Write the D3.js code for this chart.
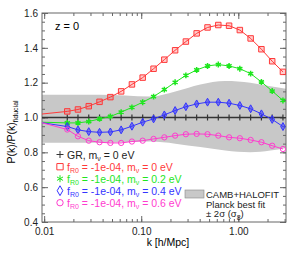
<!DOCTYPE html>
<html>
<head>
<meta charset="utf-8">
<script src="https://cdn.jsdelivr.net/npm/d3@7"></script>
<style>
  html, body { margin: 0; padding: 0; background: #fff; }
  svg { display: block; font-family: "Liberation Sans", Arial, Helvetica, sans-serif; }
  .axis path { display: none; }
  .axis line { stroke: #666; }
  .axis text { font-size: 10px; fill: #222; }
</style>
</head>
<body>
<div id="chart"></div>
<script>
// k values (h/Mpc); the first one sits on the left edge of the plot
const kVals = [0.0095, 0.0173, 0.0223, 0.0288, 0.0372, 0.0481, 0.0621, 0.0802, 0.1035, 0.134, 0.173,
  0.2234, 0.2884, 0.3724, 0.4819, 0.6223, 0.8035, 1.037, 1.34, 1.73, 2.234, 2.884];

// P(k)/P(k)_fiducial for each model
const grVals   = [1.0, 1.0, 1.0, 1.0, 1.0, 1.0, 1.0, 1.0, 1.0, 1.0, 1.0, 1.0, 1.0, 1.0, 1.0, 1.0, 1.0, 1.0, 1.0, 1.0, 1.0, 1.0];
const nu00Vals = [1.02, 1.035, 1.046, 1.065, 1.09, 1.117, 1.15, 1.19, 1.229, 1.28, 1.332, 1.386, 1.436, 1.483, 1.517, 1.531, 1.527, 1.502, 1.454, 1.392, 1.323, 1.262];
const nu02Vals = [0.973, 0.969, 0.969, 0.977, 0.992, 1.006, 1.031, 1.058, 1.088, 1.12, 1.16, 1.202, 1.242, 1.273, 1.296, 1.304, 1.296, 1.28, 1.252, 1.204, 1.152, 1.098];
const nu04Vals = [0.97, 0.948, 0.929, 0.919, 0.915, 0.917, 0.929, 0.95, 0.973, 0.992, 1.015, 1.04, 1.062, 1.078, 1.088, 1.088, 1.082, 1.069, 1.05, 1.021, 0.989, 0.948];
const nu06Vals = [0.97, 0.931, 0.892, 0.867, 0.858, 0.854, 0.854, 0.862, 0.867, 0.877, 0.886, 0.896, 0.904, 0.906, 0.904, 0.896, 0.886, 0.881, 0.871, 0.858, 0.838, 0.819];

// CAMB+HALOFIT +/- 2 sigma(sigma8) band
const bandK  = [0.0095, 0.0378, 0.124, 0.2245, 0.406, 0.734, 1.33, 2.14, 3.1];
const bandHi = [1.13, 1.13, 1.12, 1.15, 1.19, 1.21, 1.20, 1.18, 1.165];
const bandLo = [0.855, 0.855, 0.862, 0.85, 0.83, 0.81, 0.80, 0.81, 0.825];

// tick labels
const xTickVals = [0.01, 0.1, 1];
const xTickLabels = ["0.01", "0.10", "1.00"];
const yTickVals = [0.4, 0.6, 0.8, 1.0, 1.2, 1.4, 1.6];
const yTickLabels = ["0.4", "0.6", "0.8", "1.0", "1.2", "1.4", "1.6"];

const seriesNames = [
  { sub: "R0", text: " = -1e-04, m", nu: "0 eV" },
  { sub: "R0", text: " = -1e-04, m", nu: "0.2 eV" },
  { sub: "R0", text: " = -1e-04, m", nu: "0.4 eV" },
  { sub: "R0", text: " = -1e-04, m", nu: "0.6 eV" }
];

const width = 305, height = 254;
const margin = { left: 42, right: 19, top: 13, bottom: 32 };
const plotW = width - margin.left - margin.right;
const plotH = height - margin.top - margin.bottom;

const svg = d3.select("#chart").append("svg")
  .attr("width", width)
  .attr("height", height);

const x = d3.scaleLog().domain([0.0095, 3.1]).range([0, plotW]);
const y = d3.scaleLinear().domain([0.4, 1.6]).range([plotH, 0]);

const chart = svg.append("g")
  .attr("transform", `translate(${margin.left},${margin.top})`);

chart.append("clipPath").attr("id", "clip")
  .append("rect").attr("width", plotW).attr("height", plotH);

// grey band
const bandData = bandK.map((k, i) => ({ k: k, hi: bandHi[i], lo: bandLo[i] }));
chart.append("path")
  .datum(bandData)
  .attr("clip-path", "url(#clip)")
  .attr("fill", "#c8c8c8")
  .attr("d", d3.area().curve(d3.curveMonotoneX)
    .x(d => x(d.k)).y0(d => y(d.lo)).y1(d => y(d.hi)));

// axes (ticks pointing inward)
chart.append("g").attr("class", "axis")
  .call(d3.axisLeft(y).tickValues(yTickVals).tickSize(-6).tickPadding(4)
    .tickFormat((d, i) => yTickLabels[i]));
chart.append("g").attr("class", "axis")
  .call(d3.axisLeft(y).ticks(24).tickSize(-3).tickFormat(""));
chart.append("g").attr("class", "axis")
  .attr("transform", `translate(${plotW},0)`)
  .call(d3.axisRight(y).tickValues(yTickVals).tickSize(-6).tickFormat(""));
chart.append("g").attr("class", "axis")
  .attr("transform", `translate(${plotW},0)`)
  .call(d3.axisRight(y).ticks(24).tickSize(-3).tickFormat(""));

chart.append("g").attr("class", "axis")
  .attr("transform", `translate(0,${plotH})`)
  .call(d3.axisBottom(x).tickValues(xTickVals).tickSize(-6).tickPadding(6)
    .tickFormat((d, i) => xTickLabels[i]));
chart.append("g").attr("class", "axis")
  .attr("transform", `translate(0,${plotH})`)
  .call(d3.axisBottom(x).tickSize(-3).tickFormat(""));
chart.append("g").attr("class", "axis")
  .call(d3.axisTop(x).tickValues(xTickVals).tickSize(-6).tickFormat(""));
chart.append("g").attr("class", "axis")
  .call(d3.axisTop(x).tickSize(-3).tickFormat(""));

// frame
chart.append("rect")
  .attr("width", plotW).attr("height", plotH)
  .attr("fill", "none").attr("stroke", "#666");

// series
const series = [
  { vals: grVals, color: "#333333", symbol: "plus" },
  { vals: nu00Vals, color: "#ff3a3a", symbol: d3.symbolSquare, size: 30, fill: "rgba(255,58,58,0.25)" },
  { vals: nu02Vals, color: "#1ee61e", symbol: d3.symbolAsterisk, size: 24, fill: "none" },
  { vals: nu04Vals, color: "#3434ff", symbol: d3.symbolDiamond, size: 18, fill: "rgba(52,52,255,0.55)" },
  { vals: nu06Vals, color: "#ff3ccf", symbol: d3.symbolCircle, size: 22, fill: "none" }
];

const line = d3.line().x(d => x(d.k)).y(d => y(d.v));

series.forEach(s => {
  const pts = kVals.map((k, i) => ({ k: k, v: s.vals[i] }));
  const g = chart.append("g").attr("clip-path", "url(#clip)");
  g.append("path")
    .datum(pts)
    .attr("fill", "none")
    .attr("stroke", s.color)
    .attr("stroke-width", s.symbol === "plus" ? 1.5 : 1)
    .attr("d", line);

  // markers on every point but the edge one
  const marks = g.selectAll(".mark").data(pts.slice(1)).enter();
  if (s.symbol === "plus") {
    marks.append("path")
      .attr("stroke", s.color).attr("stroke-width", 1.2)
      .attr("d", d => `M${x(d.k)},${y(d.v) - 3}v6M${x(d.k) - 3},${y(d.v)}h6`);
  } else {
    marks.append("path")
      .attr("transform", d => `translate(${x(d.k)},${y(d.v)})`)
      .attr("d", d3.symbol().type(s.symbol).size(s.size))
      .attr("fill", s.fill)
      .attr("stroke", s.color)
      .attr("stroke-width", s.symbol === d3.symbolAsterisk ? 1.5 : 1);
  }
});

// z label
svg.append("text")
  .attr("x", 55).attr("y", 30)
  .style("font-size", "11px")
  .text("z = 0");

// legend
const legendY = [158.5, 170.5, 182.5, 194.5, 206.5];
const legend = svg.append("g").style("font-size", "10.5px");

legend.append("path")
  .attr("stroke", "#333").attr("stroke-width", 1)
  .attr("d", `M60,${legendY[0] - 7.5}v7M56.5,${legendY[0] - 4}h7`);
const grText = legend.append("text").attr("x", 67).attr("y", legendY[0]).attr("fill", "#222");
grText.append("tspan").text("GR, m");
grText.append("tspan").attr("dy", 2.5).style("font-size", "7px").text("ν");
grText.append("tspan").attr("dy", -2.5).text(" = 0 eV");

seriesNames.forEach((n, i) => {
  const s = series[i + 1];
  legend.append("path")
    .attr("transform", `translate(60,${legendY[i + 1] - 3.8})`)
    .attr("d", d3.symbol().type(s.symbol).size(s.size + 10))
    .attr("fill", "none")
    .attr("stroke", s.color)
    .attr("stroke-width", 1);
  const t = legend.append("text").attr("x", 67).attr("y", legendY[i + 1]).attr("fill", s.color);
  t.append("tspan").text("f");
  t.append("tspan").attr("dy", 2.5).style("font-size", "7px").text(n.sub);
  t.append("tspan").attr("dy", -2.5).text(n.text);
  t.append("tspan").attr("dy", 2.5).style("font-size", "7px").text("ν");
  t.append("tspan").attr("dy", -2.5).text(" = " + n.nu);
});

// band legend
const bandLegend = svg.append("g").style("font-size", "9.5px").attr("fill", "#222");
bandLegend.append("rect")
  .attr("x", 185).attr("y", 190).attr("width", 19).attr("height", 8)
  .attr("fill", "#c8c8c8").attr("stroke", "#888").attr("stroke-width", 0.6);
bandLegend.append("text").attr("x", 206).attr("y", 197.5).text("CAMB+HALOFIT");
bandLegend.append("text").attr("x", 206).attr("y", 207.5).text("Planck best fit");
const sigText = bandLegend.append("text").attr("x", 206).attr("y", 217);
sigText.append("tspan").text("± 2σ (σ");
sigText.append("tspan").attr("dy", 2.5).style("font-size", "7px").text("8");
sigText.append("tspan").attr("dy", -2.5).text(")");

// axis titles
svg.append("text")
  .attr("x", margin.left + plotW / 2 + 4).attr("y", 246)
  .attr("text-anchor", "middle")
  .style("font-size", "10.5px")
  .text("k [h/Mpc]");

const yTitle = svg.append("text")
  .attr("transform", "translate(15,132) rotate(-90)")
  .attr("text-anchor", "middle")
  .style("font-size", "10.5px");
yTitle.append("tspan").text("P(k)/P(k)");
yTitle.append("tspan").attr("dy", 2.5).style("font-size", "7px").text("fiducial");
</script>
</body>
</html>
